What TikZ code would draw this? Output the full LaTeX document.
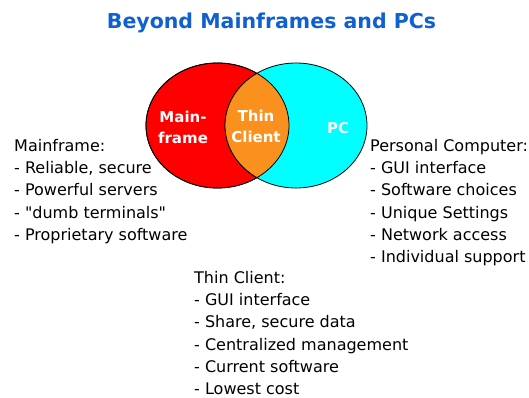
\documentclass[tikz,border=0pt]{standalone}
\usepackage{fontspec}
\setmainfont{DejaVu Sans}
\usetikzlibrary{shapes.geometric}
\definecolor{titleblue}{RGB}{16,96,208}
\definecolor{mfred}{RGB}{255,0,0}
\definecolor{pccyan}{RGB}{0,255,255}
\definecolor{tcorange}{RGB}{250,145,30}
\tikzset{
  listtext/.style={anchor=north west,inner sep=0pt,align=left,font=\fontsize{16}{22.3}\selectfont},
  intext/.style={text=white,font=\bfseries\fontsize{15}{21}\selectfont,align=center,inner sep=0pt},
}
\begin{document}
\begin{tikzpicture}[x=1pt,y=-1pt]
\useasboundingbox (0,0) rectangle (529,398);
\fill[white] (0,0) rectangle (529,398);
\node[text=titleblue,font=\bfseries\fontsize{20.5}{24}\selectfont,inner sep=0pt] (title) at (271.5,23) {Beyond Mainframes and PCs};
% circles
\node[draw=black,fill=mfred,ellipse,minimum width=143pt,minimum height=125pt,inner sep=0pt,line width=0.8pt] (mf) at (217.5,125.5) {};
\node[draw=black,fill=pccyan,ellipse,minimum width=142pt,minimum height=125pt,inner sep=0pt,line width=0.8pt] (pc) at (296,125.5) {};
\begin{scope}
  \clip (217.5,125.5) ellipse [x radius=71.5pt, y radius=62.5pt];
  \fill[tcorange,draw=black,line width=0.8pt] (296,125.5) ellipse [x radius=71pt, y radius=62.5pt];
\end{scope}
\draw[black,line width=0.8pt] (217.5,125.5) ellipse [x radius=71.5pt, y radius=62.5pt];
\node[intext] (mflab) at (183,127) {Main-\\frame};
\node[intext] (tclab) at (256,126) {Thin\\Client};
\node[intext] (pclab) at (338,128) {PC};
% lists
\node[listtext] (mflist) at (14,139) {Mainframe:\\- Reliable, secure\\- Powerful servers\\- \textquotedbl dumb terminals\textquotedbl\\- Proprietary software};
\node[listtext] (pclist) at (370,139) {Personal Computer:\\- GUI interface\\- Software choices\\- Unique Settings\\- Network access\\- Individual support};
\node[listtext] (tclist) at (194,271) {Thin Client:\\- GUI interface\\- Share, secure data\\- Centralized management\\- Current software\\- Lowest cost};
\end{tikzpicture}
\end{document}
